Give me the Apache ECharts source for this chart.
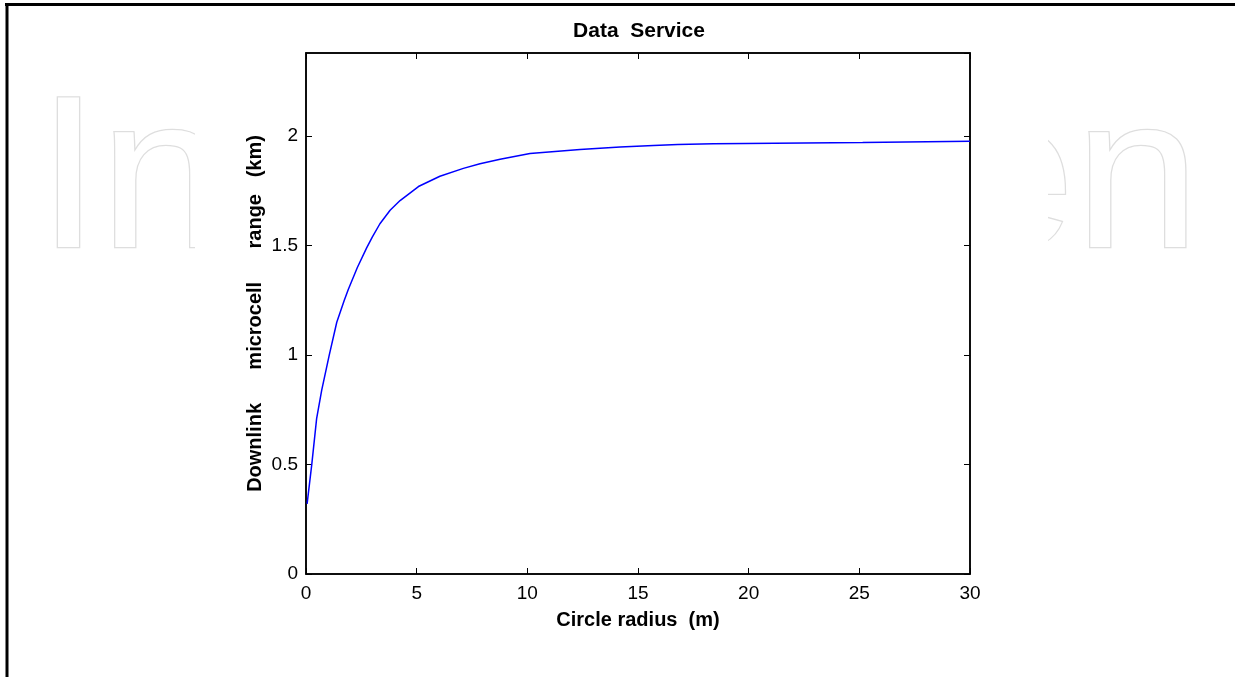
<!DOCTYPE html>
<html>
<head>
<meta charset="utf-8">
<script src="https://cdn.jsdelivr.net/npm/echarts@6/dist/echarts.min.js"></script>
<style>
html,body{margin:0;padding:0;background:#fff;}
#main{width:1235px;height:677px;}
</style>
</head>
<body>
<div id="main"></div>
<script>
// values
var radius = [0.05, 0.26, 0.48, 0.71, 1.05, 1.39, 1.73, 1.91, 2.32, 2.74, 3.0, 3.34, 3.8, 4.25, 5.08, 6.05, 7.11, 7.86, 8.77, 10.12, 12.38, 14.19, 15.7, 16.8, 18.4, 19.85, 19.9, 25.15, 25.2, 30];
var range = [0.32, 0.50, 0.71, 0.84, 1.00, 1.15, 1.25, 1.30, 1.40, 1.49, 1.54, 1.60, 1.662, 1.706, 1.77, 1.817, 1.853, 1.874, 1.895, 1.921, 1.939, 1.951, 1.958, 1.962, 1.965, 1.967, 1.971, 1.971, 1.977, 1.977];
var xTicks = [0, 5, 10, 15, 20, 25, 30];
var yTicks = [0, 0.5, 1, 1.5, 2];

var lineData = [];
for (var i = 0; i < radius.length; i++) {
    lineData.push([radius[i], range[i]]);
}

var chart = echarts.init(document.getElementById('main'));

var labelFont = {fontFamily: 'Liberation Sans', fontSize: 19, color: '#000'};
var nameFont = {fontFamily: 'Liberation Sans', fontSize: 20, fontWeight: 'bold', color: '#000'};
// matlab style ticks pointing into the box
var tickIn = {show: true, inside: true, length: 6, lineStyle: {color: '#000', width: 1}};
var boxLine = {show: true, onZero: false, lineStyle: {color: '#000', width: 1.5}};

var option = {
    backgroundColor: '#fff',
    animation: false,
    title: {
        text: 'Data  Service',
        left: 634,
        textAlign: 'center',
        top: 16,
        textStyle: {fontFamily: 'Liberation Sans', fontSize: 21, fontWeight: 'bold', color: '#000'}
    },
    graphic: [
        {
            type: 'text', z: -20, silent: true,
            x: 618.5, y: 187.5, scaleX: 1.036,
            style: {
                text: 'IntechOpen', x: 0, y: 0,
                align: 'center', verticalAlign: 'middle',
                font: '217px "Liberation Sans"',
                fill: '#fff', stroke: '#dedede', lineWidth: 2.5
            }
        },
        {
            type: 'rect', z: -10, silent: true,
            shape: {x: 195, y: 10, width: 853, height: 667},
            style: {fill: '#fff'}
        },
        {
            type: 'line', z: 10, silent: true,
            shape: {x1: 5, y1: 4.5, x2: 1235, y2: 4.5},
            style: {stroke: '#000', lineWidth: 3}
        },
        {
            type: 'line', z: 10, silent: true,
            shape: {x1: 7, y1: 3, x2: 7, y2: 677},
            style: {stroke: '#000', lineWidth: 3}
        }
    ],
    grid: {
        left: 306, right: 265, top: 53, bottom: 103,
        show: true, backgroundColor: '#fff', borderColor: '#000', borderWidth: 1.5
    },
    xAxis: [
        {
            type: 'value', min: xTicks[0], max: xTicks[xTicks.length - 1], interval: 5,
            name: 'Circle radius  (m)', nameLocation: 'middle', nameGap: 36, nameTextStyle: nameFont,
            axisLine: boxLine,
            axisTick: tickIn,
            axisLabel: Object.assign({margin: 10}, labelFont),
            splitLine: {show: false}
        },
        {
            type: 'value', position: 'top', min: xTicks[0], max: xTicks[xTicks.length - 1], interval: 5,
            axisLine: boxLine,
            axisTick: tickIn,
            axisLabel: {show: false},
            splitLine: {show: false}
        }
    ],
    yAxis: [
        {
            type: 'value', min: yTicks[0], max: 2.38, interval: 0.5,
            name: 'Downlink      microcell      range   (km)', nameLocation: 'middle',
            nameGap: 41, nameMoveOverlap: false, nameTextStyle: nameFont,
            axisLine: boxLine,
            axisTick: tickIn,
            axisLabel: Object.assign({showMaxLabel: false, margin: 8}, labelFont),
            splitLine: {show: false}
        },
        {
            type: 'value', position: 'right', min: yTicks[0], max: 2.38, interval: 0.5,
            axisLine: boxLine,
            axisTick: tickIn,
            axisLabel: {show: false},
            splitLine: {show: false}
        }
    ],
    series: [
        {
            type: 'line',
            data: lineData,
            showSymbol: false,
            smooth: false,
            lineStyle: {color: '#0000ff', width: 1.5},
            itemStyle: {color: '#0000ff'}
        }
    ]
};

chart.setOption(option);
</script>
</body>
</html>
